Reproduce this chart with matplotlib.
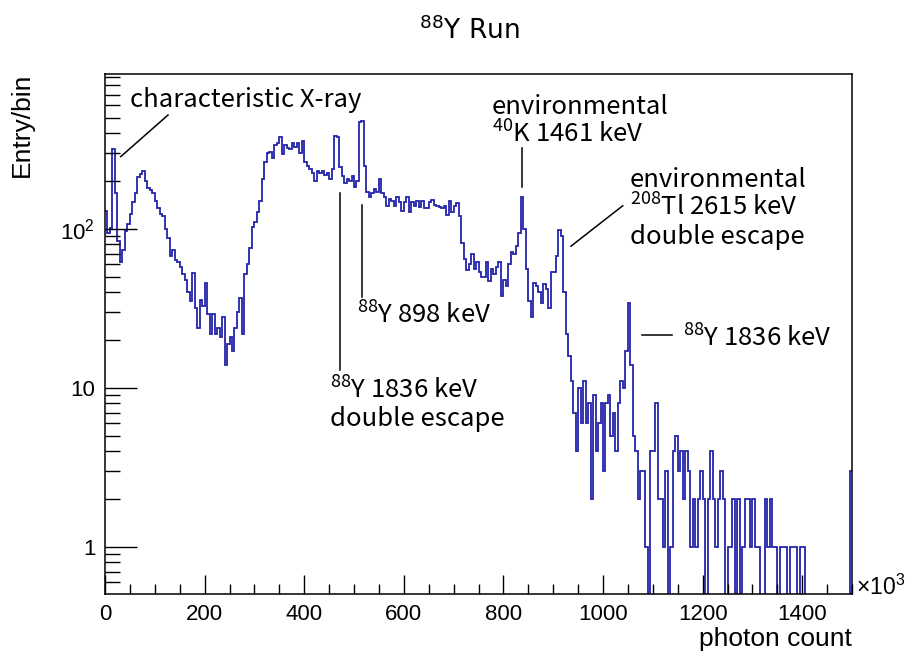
import numpy as np
import matplotlib
matplotlib.use("Agg")
import matplotlib.pyplot as plt
from matplotlib.ticker import FixedLocator, FuncFormatter, LogLocator, MultipleLocator, NullFormatter

# Photon-count spectrum of the 88Y run: 300 bins of 5k counts, 0 .. 1500k
bin_width = 5
x_max = 1500

counts_000_100 = [130, 94, 102, 320, 168, 84, 62, 74, 97, 108, 125, 148, 168, 212, 222, 230, 200, 182, 176, 168]
counts_100_200 = [150, 135, 125, 120, 100, 88, 68, 74, 64, 62, 58, 52, 48, 40, 35, 53, 32, 24, 36, 33]
counts_200_300 = [46, 29, 22, 29, 22, 24, 21, 28, 14, 19, 21, 17, 24, 30, 37, 22, 52, 60, 76, 103]
counts_300_400 = [110, 128, 150, 205, 265, 300, 305, 280, 340, 350, 380, 295, 340, 325, 320, 345, 330, 350, 300, 360]
counts_400_500 = [265, 248, 238, 225, 200, 232, 225, 232, 220, 225, 205, 240, 385, 380, 245, 215, 195, 205, 200, 215]
counts_500_600 = [185, 200, 470, 480, 250, 170, 158, 168, 178, 172, 205, 168, 160, 140, 155, 150, 140, 158, 148, 130]
counts_600_700 = [148, 160, 128, 148, 140, 150, 138, 150, 136, 135, 148, 152, 142, 140, 138, 136, 140, 122, 150, 128]
counts_700_800 = [140, 145, 120, 82, 65, 55, 60, 70, 56, 62, 54, 50, 50, 62, 47, 56, 52, 58, 62, 38]
counts_800_900 = [48, 44, 60, 72, 70, 78, 95, 160, 100, 56, 35, 28, 46, 44, 40, 34, 45, 42, 32, 54]
counts_900_1000 = [54, 68, 98, 90, 40, 22, 16, 11, 7, 4, 10, 6, 11, 6, 8, 2, 9, 4, 6, 8]
counts_1000_1100 = [3, 8, 9, 5, 7, 4, 8, 11, 10, 17, 34, 14, 5, 4, 2, 3, 3, 1, 0, 4]
counts_1100_1200 = [4, 8, 2, 2, 1, 3, 0, 1, 4, 5, 3, 4, 2, 4, 3, 1, 2, 1, 2, 3]
counts_1200_1300 = [2, 0, 2, 4, 2, 1, 2, 3, 2, 0, 1, 1, 2, 0, 2, 0, 1, 2, 2, 1]
counts_1300_1400 = [2, 1, 1, 0, 0, 2, 1, 2, 1, 1, 0, 1, 1, 1, 0, 1, 1, 1, 0, 1]
counts_1400_1500 = [1, 0, 0, 0, 0, 0, 0, 0, 0, 0, 0, 0, 0, 0, 0, 0, 0, 0, 0, 3]

counts = np.array(counts_000_100 + counts_100_200 + counts_200_300 + counts_300_400
                  + counts_400_500 + counts_500_600 + counts_600_700 + counts_700_800
                  + counts_800_900 + counts_900_1000 + counts_1000_1100 + counts_1100_1200
                  + counts_1200_1300 + counts_1300_1400 + counts_1400_1500, dtype=float)
edges = np.arange(0, x_max + bin_width, bin_width)

x_ticks = [0, 200, 400, 600, 800, 1000, 1200, 1400]
y_ticks = [1, 10, 100]
y_tick_labels = {1: "1", 10: "10", 100: r"$\mathregular{10^{2}}$"}

axis_font = "Liberation Sans"
note_font = ["Noto Sans CJK JP", "DejaVu Sans"]
line_color = "#2424aa"

fig = plt.figure(figsize=(9.08, 6.52), dpi=100)
W, H = 908, 652
ax = fig.add_axes([105 / W, 1 - 594 / H, (852 - 105) / W, (594 - 74) / H])

# empty bins are pushed below the visible range so the outline drops to the floor
shown = np.where(counts > 0, counts, 1e-3)
ax.stairs(shown, edges, color=line_color, linewidth=1.3, baseline=None)

ax.set_yscale("log")
ax.set_xlim(0, x_max)
ax.set_ylim(0.506, 944)

ax.xaxis.set_major_locator(FixedLocator(x_ticks))
ax.xaxis.set_minor_locator(MultipleLocator(50))
ax.yaxis.set_major_locator(FixedLocator(y_ticks))
ax.yaxis.set_minor_locator(LogLocator(base=10, subs=np.arange(2, 10), numticks=20))
ax.yaxis.set_minor_formatter(NullFormatter())
ax.yaxis.set_major_formatter(FuncFormatter(lambda v, p: y_tick_labels.get(int(round(v)), "")))

ax.tick_params(which="both", direction="in", top=False, right=False, width=1.0, colors="black")
ax.tick_params(axis="x", which="major", length=14, pad=7)
ax.tick_params(axis="x", which="minor", length=7)
ax.tick_params(axis="y", which="major", length=23, pad=7)
ax.tick_params(axis="y", which="minor", length=11)
for lab in ax.get_xticklabels() + ax.get_yticklabels():
    lab.set_fontfamily(axis_font)
    lab.set_fontsize(16)
for sp in ax.spines.values():
    sp.set_linewidth(1.1)

fig.text(856 / W, 1 - 587 / H, r"$\mathregular{\times10^{3}}$", family=axis_font, fontsize=16.5,
         ha="left", va="center")
fig.text(852 / W, 1 - 639 / H, "photon count", family=axis_font, fontsize=19, ha="right", va="center")
fig.text(22 / W, 1 - 73 / H, "Entry/bin", family=axis_font, fontsize=19, rotation=90,
         ha="center", va="top")
fig.text(469 / W, 1 - 31 / H, r"$\mathregular{^{88}}$Y Run", family="Liberation Sans Narrow",
         fontsize=19, ha="center", va="center")

# peak annotations
note_kw = dict(family=note_font, fontsize=18.5, ha="left", va="center", linespacing=1.1)
seg_kw = dict(color="black", linewidth=1.1)

ax.plot([31.5, 126.5], [285, 521], **seg_kw)
ax.text(50, 650, "characteristic X-ray", **note_kw)

ax.plot([837, 837], [184, 323], **seg_kw)
ax.text(777, 475, "environmental\n" + r"$\mathregular{^{40}}$K 1461 keV", **note_kw)

ax.plot([935.7, 1039.6], [78, 140], **seg_kw)
ax.text(1054, 135, "environmental\n" + r"$\mathregular{^{208}}$Tl 2615 keV" + "\ndouble escape", **note_kw)

ax.plot([517, 517], [37.5, 141.6], **seg_kw)
ax.text(506, 28.5, r"$\mathregular{^{88}}$Y 898 keV", **note_kw)

ax.plot([472, 472], [13, 169], **seg_kw)
ax.text(452, 7.85, r"$\mathregular{^{88}}$Y 1836 keV" + "\ndouble escape", **note_kw)

ax.plot([1077.7, 1138], [21.5, 21.5], **seg_kw)
ax.text(1160.6, 20.3, r"$\mathregular{^{88}}$Y 1836 keV", **note_kw)

fig.savefig("out.png", dpi=100)
